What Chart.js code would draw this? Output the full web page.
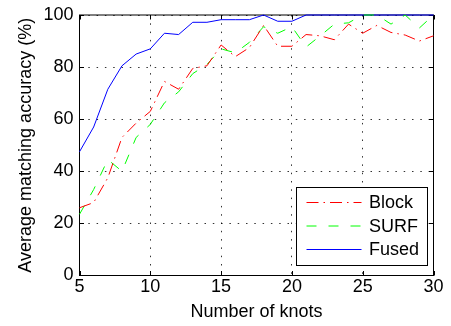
<!DOCTYPE html>
<html>
<head>
<meta charset="utf-8">
<script src="https://cdn.jsdelivr.net/npm/chart.js@4/dist/chart.umd.min.js"></script>
<style>
    body { margin: 0; background: #fff; }
</style>
</head>
<body>
<canvas id="precisionChart" width="451" height="326"></canvas>
<script>
// ---------------- DATOS ----------------
const knots = [5, 6, 7, 8, 9, 10, 11, 12, 13, 14, 15, 16, 17, 18, 19, 20, 21, 22, 23, 24, 25, 26, 27, 28, 29, 30];
const block = [26, 28, 37.5, 53, 58.5, 63, 74.5, 71.5, 79.5, 80.5, 88.5, 84, 87.5, 96, 88, 88, 92.5, 92, 90.5, 96.5, 93, 96, 93.3, 92.3, 90, 92];
const surf  = [23.5, 33, 44.5, 40, 53, 58, 66.3, 70.5, 77.5, 81, 87, 85.5, 89.5, 95.5, 93, 95.5, 87.7, 92, 96.5, 97, 100, 100, 96.5, 100, 95, 100];
const fused = [47.5, 57, 71.5, 80.5, 85, 87, 93, 92.5, 97.2, 97.2, 98.2, 98.2, 98.2, 100, 97.6, 97.6, 100, 100, 100, 100, 100, 100, 100, 100, 100, 100];
const xTicks = [5, 10, 15, 20, 25, 30];
const yTicks = [0, 20, 40, 60, 80, 100];

const fuente = "'Liberation Sans', Arial, Helvetica, sans-serif";
Chart.defaults.font.family = fuente;
Chart.defaults.color = '#000';

function puntos(valores) {
    return knots.map((k, i) => ({ x: k, y: valores[i] }));
}

// ---------------- MARCO Y MARCAS (estilo MATLAB) ----------------
const marco = {
    id: 'marco',
    beforeDatasetsDraw(chart) {
        const { ctx, chartArea: a, scales: { x, y } } = chart;
        ctx.save();
        ctx.strokeStyle = '#000';
        ctx.lineWidth = 1;
        ctx.strokeRect(a.left, a.top, a.right - a.left, a.bottom - a.top);
        ctx.beginPath();
        for (const v of xTicks) {
            const px = Math.round(x.getPixelForValue(v)) + 0.5;
            ctx.moveTo(px, a.bottom); ctx.lineTo(px, a.bottom - 4.5);
            ctx.moveTo(px, a.top); ctx.lineTo(px, a.top + 4.5);
        }
        for (const v of yTicks) {
            const py = Math.round(y.getPixelForValue(v) - 0.5) + 0.5;
            ctx.moveTo(a.left, py); ctx.lineTo(a.left + 4.5, py);
            ctx.moveTo(a.right, py); ctx.lineTo(a.right - 4.5, py);
        }
        ctx.stroke();
        ctx.restore();
    }
};

// ---------------- LEYENDA DENTRO DEL GRÁFICO ----------------
const leyenda = {
    id: 'leyenda',
    afterDatasetsDraw(chart) {
        const { ctx, chartArea: a } = chart;
        const w = 131, h = 78;
        const left = Math.round(a.right - 7 - w) + 0.5;
        const top = Math.round(a.bottom - 11 - h) + 0.5;
        ctx.save();
        ctx.fillStyle = '#fff';
        ctx.fillRect(left, top, w, h);
        ctx.strokeStyle = '#000';
        ctx.lineWidth = 1;
        ctx.strokeRect(left, top, w, h);
        chart.data.datasets.forEach((ds, i) => {
            const yy = top + 15 + i * 23.5;
            ctx.beginPath();
            ctx.setLineDash(ds.borderDash || []);
            ctx.strokeStyle = ds.borderColor;
            ctx.moveTo(left + 10, yy);
            ctx.lineTo(left + 65, yy);
            ctx.stroke();
            ctx.setLineDash([]);
            ctx.fillStyle = '#000';
            ctx.font = '18px ' + fuente;
            ctx.textBaseline = 'middle';
            ctx.textAlign = 'left';
            ctx.fillText(ds.label, left + 72.5, yy + 1);
        });
        ctx.restore();
    }
};

// ---------------- GRÁFICA ----------------
const ctx = document.getElementById('precisionChart').getContext('2d');

new Chart(ctx, {
    type: 'line',
    data: {
        datasets: [
            { label: 'Block', data: puntos(block), borderColor: '#ff0000', borderDash: [12, 5, 1.5, 5] },
            { label: 'SURF', data: puntos(surf), borderColor: '#00ff00', borderDash: [10, 12] },
            { label: 'Fused', data: puntos(fused), borderColor: '#0000ff' }
        ]
    },
    options: {
        responsive: false,
        animation: false,
        devicePixelRatio: 1,
        layout: { padding: { left: 0, right: 17.5, top: 10.5, bottom: 0 } },
        elements: {
            line: { borderWidth: 1, tension: 0, fill: false },
            point: { radius: 0, hoverRadius: 0 }
        },
        datasets: { line: { clip: false } },
        plugins: { legend: { display: false }, tooltip: { enabled: false } },
        scales: {
            x: {
                type: 'linear',
                min: 5,
                max: 30,
                afterBuildTicks: s => { s.ticks = xTicks.map(v => ({ value: v })); },
                afterFit: s => { s.height = 50.5; },
                ticks: { padding: 3, maxRotation: 0, font: { size: 18, lineHeight: 1 }, color: '#000' },
                grid: { color: 'rgba(0,0,0,0.8)', lineWidth: 1, drawTicks: false },
                border: { display: false, dash: [1.5, 6.8] },
                title: { display: true, text: 'Number of knots', font: { size: 18 }, color: '#000', padding: { top: 0, bottom: 3 } }
            },
            y: {
                min: 0,
                max: 100,
                afterBuildTicks: s => { s.ticks = yTicks.map(v => ({ value: v })); },
                afterFit: s => { s.width = 79.5; },
                ticks: { padding: 6, font: { size: 18, lineHeight: 1 }, color: '#000' },
                grid: { color: 'rgba(0,0,0,0.8)', lineWidth: 1, drawTicks: false },
                border: { display: false, dash: [1.5, 6.8] },
                title: { display: true, text: 'Average matching accuracy (%)', font: { size: 18 }, color: '#000', padding: { top: 15, bottom: 0 } }
            }
        }
    },
    plugins: [marco, leyenda]
});
</script>
</body>
</html>
